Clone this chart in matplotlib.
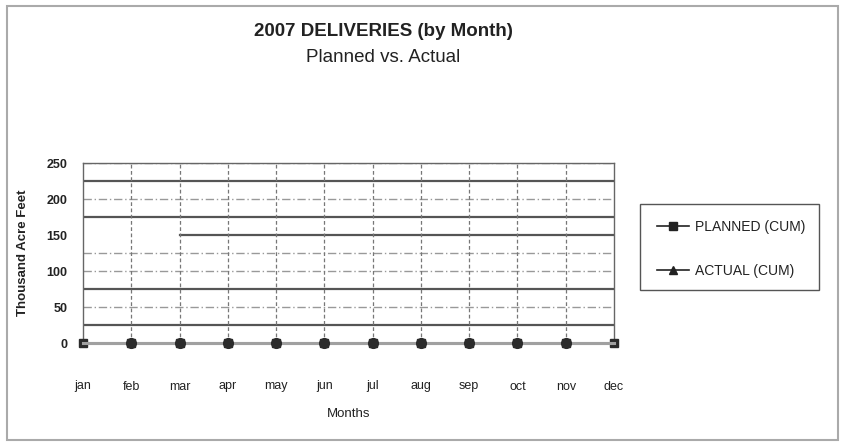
import matplotlib
matplotlib.use("Agg")
import matplotlib.pyplot as plt
from matplotlib.patches import Rectangle
from matplotlib.lines import Line2D

months = ["jan", "feb", "mar", "apr", "may", "jun", "jul", "aug", "sep", "oct", "nov", "dec"]
planned_cum = [0, 0, 0, 0, 0, 0, 0, 0, 0, 0, 0, 0]
actual_cum = [0, 0, 0, 0, 0, 0, 0, 0, 0, 0, 0, 0]
y_ticks = [0, 50, 100, 150, 200, 250]
solid_grid = [25, 75, 175, 225]
dashed_grid = [50, 100, 125, 200, 250]

plt.rcParams['font.family'] = ['Liberation Sans', 'DejaVu Sans']

fig = plt.figure(figsize=(8.44, 4.43), dpi=100)
fig.patch.set_facecolor("white")

# figure border
fig.add_artist(Rectangle((7/844, 3/443), 831/844, 434/443, transform=fig.transFigure,
                         fill=False, edgecolor="#aaaaaa", lw=1.5))

ax = fig.add_axes([83/844, 1 - 343/443, 531/844, 180/443])
x = list(range(len(months)))

for lv in solid_grid:
    ax.axhline(lv, color="#555555", lw=1.6, zorder=1)
ax.axhline(150, xmin=2/11, xmax=1, color="#555555", lw=1.6, zorder=1)
for lv in dashed_grid:
    ax.axhline(lv, color="#999999", lw=1.0, ls=(0, (6, 2, 1, 2)), zorder=1)
for xi in x[1:-1]:
    ax.axvline(xi, color="#777777", lw=0.9, ls=(0, (3, 2)), zorder=1)

ax.plot(x, planned_cum, color="#a0a0a0", lw=2.2, marker="s", ms=5.5,
        mfc="#2b2b2b", mec="#2b2b2b", clip_on=False, zorder=3)
ax.plot(x, actual_cum, color="#a0a0a0", lw=2.2, marker="o", ms=7,
        mfc="#2b2b2b", mec="#2b2b2b", clip_on=False, zorder=4,
        markevery=list(range(1, 11)))

ax.set_xlim(0, 11)
ax.set_ylim(0, 250)
ax.set_yticks(y_ticks)
ax.set_yticklabels([str(v) for v in y_ticks], fontsize=9, fontweight="bold", color="#222222")
ax.set_xticks(x)
ax.set_xticklabels(months, fontsize=9, color="#222222")
ax.tick_params(axis="x", length=0, pad=27)
ax.tick_params(axis="y", length=0, pad=11)
for s in ["left", "right", "top"]:
    ax.spines[s].set_color("#666666")
    ax.spines[s].set_linewidth(1.0)
ax.spines["bottom"].set_visible(False)

ax.set_xlabel("Months", fontsize=9.5, color="#222222", labelpad=11)
ax.set_ylabel("Thousand Acre Feet", fontsize=9.5, fontweight="bold", color="#222222", labelpad=13)

fig.text(383/844, 1 - 32/443, "2007 DELIVERIES (by Month)", ha="center", va="center",
         fontsize=13.5, fontweight="bold", color="#222222")
fig.text(383/844, 1 - 57/443, "Planned vs. Actual", ha="center", va="center",
         fontsize=13.5, color="#222222")

# legend box
fig.add_artist(Rectangle((640/844, 1 - 290/443), 179/844, 86/443, transform=fig.transFigure,
                         fill=False, edgecolor="#555555", lw=1.0))
handles = [
    Line2D([0], [0], color="#222222", lw=1.2, marker="s", ms=6, mfc="#222222", mec="#222222"),
    Line2D([0], [0], color="#222222", lw=1.2, marker="^", ms=6, mfc="#222222", mec="#222222"),
]
leg = fig.legend(handles, ["PLANNED (CUM)", "ACTUAL (CUM)"], loc="center",
                 bbox_to_anchor=(731/844, 1 - 249/443), frameon=False, fontsize=10,
                 handlelength=2.3, labelspacing=2.2, handletextpad=0.4)
for t in leg.get_texts():
    t.set_color("#222222")

fig.savefig("out.png", dpi=100, facecolor="white")
